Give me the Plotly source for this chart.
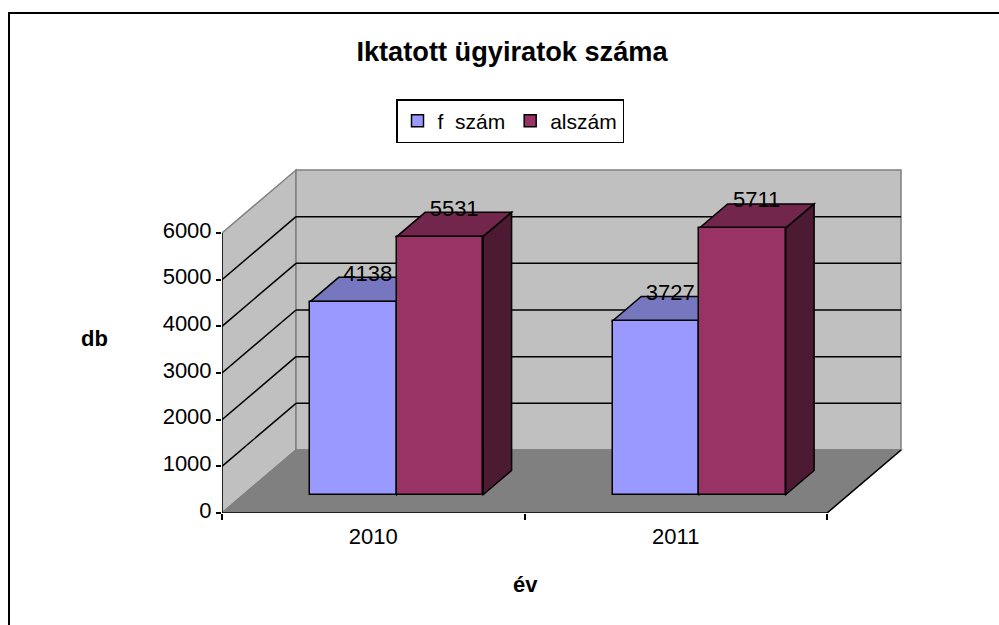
import plotly.graph_objects as go

# ---- data ----
years = ["2010", "2011"]
series_names = ["f\u00a0\u00a0szám", "alszám"]
fo_szam = [4138, 3727]
alszam = [5531, 5711]
value_ticks = [0, 1000, 2000, 3000, 4000, 5000, 6000]

# ---- styles / geometry ----
FONT = "Liberation Sans"
FRONT = ["#9999FF", "#993366"]
TOP = ["#7777BF", "#73264C"]
SIDE = ["#4D4D80", "#4D1A33"]
WALL = "#C0C0C0"
FLOOR = "#808080"
EDGE = "#808080"

PX_PER_CAT = 302.5
PX_PER_VAL = 0.046667
DEPTH_X = 74 / PX_PER_CAT      # full depth offset in category units
DEPTH_Y = 63 / PX_PER_VAL      # full depth offset in value units
BAR_W = 1 / 3.5
BAR_SHIFT = 0.0065
D_FRONT, D_BACK = 0.29, 0.675
TOPV = 6000
XMAX = 2.0


def proj(x, v, d=0.0):
    return x + d * DEPTH_X, v + d * DEPTH_Y


def poly(points, fill, line=None, width=1.5):
    xs = [p[0] for p in points]
    ys = [p[1] for p in points]
    path = "M" + " L".join(f"{a:.5f},{b:.2f}" for a, b in zip(xs, ys)) + " Z"
    return dict(type="path", path=path, xref="x", yref="y", layer="below",
                fillcolor=fill, line=dict(color=line or "rgba(0,0,0,0)", width=width if line else 0))


def seg(p, q, color="#000000", width=1.5):
    return dict(type="line", x0=p[0], y0=p[1], x1=q[0], y1=q[1], xref="x", yref="y",
                layer="below", line=dict(color=color, width=width))


shapes = []
# walls and floor
shapes.append(poly([proj(0, 0), proj(0, 0, 1), proj(0, TOPV, 1), proj(0, TOPV)], WALL, EDGE, 1.5))
shapes.append(poly([proj(0, 0, 1), proj(XMAX, 0, 1), proj(XMAX, TOPV, 1), proj(0, TOPV, 1)], WALL, EDGE, 1.5))
shapes.append(poly([proj(0, 0), proj(XMAX, 0), proj(XMAX, 0, 1), proj(0, 0, 1)], FLOOR, EDGE, 1.5))
# gridlines
for v in value_ticks[1:-1]:
    shapes.append(seg(proj(0, v), proj(0, v, 1)))
    shapes.append(seg(proj(0, v, 1), proj(XMAX, v, 1)))

fig = go.Figure()
all_series = [fo_szam, alszam]
label_x, label_y, label_text = [], [], []
for s, vals in enumerate(all_series):
    lefts = [c + 0.5 - BAR_W + s * BAR_W + BAR_SHIFT for c in range(len(years))]
    base = proj(0, 0, D_FRONT)
    fig.add_trace(go.Bar(
        x=[l + base[0] + BAR_W / 2 for l in lefts], y=vals, base=base[1], width=BAR_W,
        name=series_names[s], offset=-BAR_W / 2, hoverinfo="skip",
        marker=dict(color=FRONT[s], line=dict(color="#000000", width=1.5)),
    ))
    for l, v in zip(lefts, vals):
        r = l + BAR_W
        # top face
        shapes.append(poly([proj(l, v, D_FRONT), proj(r, v, D_FRONT), proj(r, v, D_BACK), proj(l, v, D_BACK)],
                           TOP[s], "#000000"))
        # side face
        shapes.append(poly([proj(r, 0, D_FRONT), proj(r, v, D_FRONT), proj(r, v, D_BACK), proj(r, 0, D_BACK)],
                           SIDE[s], "#000000"))
        lx = proj((l + r) / 2, v, (D_FRONT + D_BACK) / 2)[0]
        ly = proj((l + r) / 2, v, D_BACK)[1]
        label_x.append(lx)
        label_y.append(ly + 50)
        label_text.append(str(v))

fig.add_trace(go.Scatter(x=label_x, y=label_y, text=label_text, mode="text", showlegend=False,
                         textposition="middle center", hoverinfo="skip", cliponaxis=False,
                         textfont=dict(family=FONT, size=22, color="#000000")))
# axis lines and the right floor edge, kept unclipped
pts = [proj(0, TOPV), proj(0, 0), proj(XMAX, 0), proj(XMAX, 0, 1)]
fig.add_trace(go.Scatter(x=[p[0] for p in pts], y=[p[1] for p in pts], mode="lines", showlegend=False,
                         hoverinfo="skip", cliponaxis=False, line=dict(color="#000000", width=1.5)))

# outer chart frame, in paper coordinates
W, H = 999, 625
L, R, T, B = 222, 902 + 3, 166, 513
px = lambda x: (x - L) / (R - L)
py = lambda y: (B - y) / (B - T)
frame = [(9, 640), (9, 13), (1005, 13)]
shapes.append(dict(type="path", xref="paper", yref="paper", layer="below",
                   path="M" + " L".join(f"{px(a):.5f},{py(b):.5f}" for a, b in frame),
                   line=dict(color="#000000", width=2)))

fig.update_layout(
    width=W, height=H, autosize=False,
    margin=dict(l=L, r=W - R, t=T, b=H - B, pad=0),
    paper_bgcolor="#FFFFFF", plot_bgcolor="rgba(0,0,0,0)",
    font=dict(family=FONT, color="#000000", size=22),
    barmode="overlay",
    bargap=0,
    shapes=shapes,
    title=dict(text="<b>Iktatott ügyiratok száma</b>", x=512 / W, xanchor="center", xref="container",
               y=1 - 51 / H, yanchor="middle", font=dict(family=FONT, size=27.2, color="#000000")),
    legend=dict(orientation="h", x=px(510), y=py(99), xanchor="center", yanchor="top",
                bgcolor="#FFFFFF", bordercolor="#000000", borderwidth=1.5,
                font=dict(family=FONT, size=21, color="#000000"), traceorder="normal"),
    xaxis=dict(range=[0, (R - L) / PX_PER_CAT], showgrid=False, zeroline=False, showline=False,
               tickmode="array", tickvals=[0.5, 1.5], ticktext=years, ticks="", ticklen=0,
               ticklabelstandoff=8,
               minor=dict(tickmode="array", tickvals=[0, 1, 2], ticks="outside", ticklen=6,
                          tickwidth=1.5, tickcolor="#000000", showgrid=False),
               tickfont=dict(family=FONT, size=22, color="#000000")),
    yaxis=dict(range=[0, (B - T) / PX_PER_VAL], showgrid=False, zeroline=False, showline=False,
               tickmode="array", tickvals=value_ticks, ticks="outside", ticklen=5, tickwidth=1.5,
               ticklabelshift=-3, ticklabelstandoff=0,
               tickcolor="#000000", tickfont=dict(family=FONT, size=22, color="#000000")),
    annotations=[
        dict(text="<b>db</b>", x=px(94), y=py(338), xref="paper", yref="paper", showarrow=False,
             xanchor="center", yanchor="middle", font=dict(family=FONT, size=22, color="#000000")),
        dict(text="<b>év</b>", x=px(525), y=py(584), xref="paper", yref="paper", showarrow=False,
             xanchor="center", yanchor="middle", font=dict(family=FONT, size=22, color="#000000")),
    ],
)

fig.write_html("out.html", post_script="document.body.style.margin='0';",
               config=dict(displayModeBar=False))
